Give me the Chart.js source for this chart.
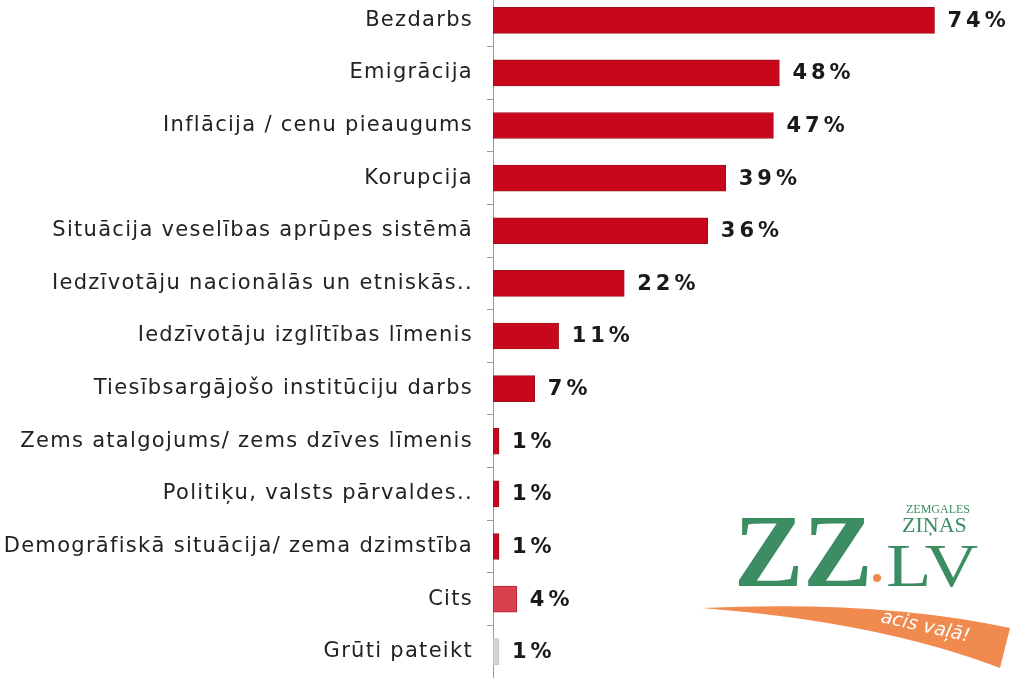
<!DOCTYPE html>
<html>
<head>
<meta charset="utf-8">
<script src="https://cdn.jsdelivr.net/npm/chart.js@4.4.1/dist/chart.umd.min.js"></script>
<style>
	html, body { margin: 0; padding: 0; background: #fff; overflow: hidden; }
	#wrap { position: absolute; left: 0; top: -6px; width: 1024px; height: 684px; }
</style>
</head>
<body>
<div id="wrap"><canvas id="problemsChart"></canvas></div>
<script>
// survey answers, share of respondents (%)
var categories = [
	'Bezdarbs',
	'Emigrācija',
	'Inflācija / cenu pieaugums',
	'Korupcija',
	'Situācija veselības aprūpes sistēmā',
	'Iedzīvotāju nacionālās un etniskās..',
	'Iedzīvotāju izglītības līmenis',
	'Tiesībsargājošo institūciju darbs',
	'Zems atalgojums/ zems dzīves līmenis',
	'Politiķu, valsts pārvaldes..',
	'Demogrāfiskā situācija/ zema dzimstība',
	'Cits',
	'Grūti pateikt'
];
var shares = [74, 48, 47, 39, 36, 22, 11, 7, 1, 1, 1, 4, 1];
var valueLabels = ['74%', '48%', '47%', '39%', '36%', '22%', '11%', '7%', '1%', '1%', '1%', '4%', '1%'];

var fillColors = [];
var edgeColors = [];
for (var i = 0; i < categories.length; i++) {
	if (categories[i] == 'Cits') {
		fillColors.push('#d9414f');
		edgeColors.push('#b3222f');
	} else if (categories[i] == 'Grūti pateikt') {
		fillColors.push('#d4d4d4');
		edgeColors.push('#c4c4c4');
	} else {
		fillColors.push('#c8071c');
		edgeColors.push('#9e1018');
	}
}

// the source image is a bit stretched sideways, so widen the axis text
var spacingPlugin = {
	id: 'labelSpacing',
	beforeDraw: function(chart) {
		chart.ctx.letterSpacing = '1.3px';
	}
};

// percentage text next to each bar
var valueLabelPlugin = {
	id: 'valueLabels',
	afterDatasetsDraw: function(chart) {
		var ctx = chart.ctx;
		var meta = chart.getDatasetMeta(0);
		ctx.save();
		ctx.fillStyle = '#1a1a1a';
		ctx.font = 'bold 21px "DejaVu Sans"';
		ctx.textBaseline = 'middle';
		ctx.textAlign = 'left';
		ctx.letterSpacing = '4px';
		meta.data.forEach(function(bar, i) {
			ctx.fillText(valueLabels[i], bar.x + 13, bar.y + 1);
		});
		ctx.restore();
	}
};

// ZZ.LV watermark in the lower right corner
var logoPlugin = {
	id: 'zzLogo',
	afterDraw: function(chart) {
		var ctx = chart.ctx;
		ctx.save();
		ctx.letterSpacing = '0px';
		// orange swoosh
		ctx.fillStyle = '#f08a4e';
		ctx.beginPath();
		ctx.moveTo(702, 614);
		ctx.quadraticCurveTo(880, 606, 1010, 634);
		ctx.lineTo(1000, 674);
		ctx.quadraticCurveTo(880, 628, 702, 614);
		ctx.closePath();
		ctx.fill();
		ctx.fillStyle = '#ffffff';
		ctx.font = 'italic 19px "DejaVu Sans"';
		ctx.translate(880, 628);
		ctx.rotate(0.22);
		ctx.fillText('acis vaļā!', 0, 0);
		ctx.restore();

		ctx.save();
		ctx.letterSpacing = '0px';
		ctx.fillStyle = '#3d8d63';
		ctx.textBaseline = 'alphabetic';
		ctx.font = 'bold 104px "Liberation Serif"';
		ctx.fillText('ZZ', 734, 592);
		ctx.font = '12px "Liberation Serif"';
		ctx.fillText('ZEMGALES', 906, 519);
		ctx.font = '22px "Liberation Serif"';
		ctx.fillText('ZIŅAS', 902, 538);
		ctx.save();
		ctx.translate(886, 592);
		ctx.scale(1.2, 1);
		ctx.font = '62px "Liberation Serif"';
		ctx.fillText('LV', 0, 0);
		ctx.restore();
		ctx.fillStyle = '#f08a4e';
		ctx.beginPath();
		ctx.arc(877, 584, 4, 0, Math.PI * 2);
		ctx.fill();
		ctx.restore();
	}
};

var ctx = document.getElementById('problemsChart');
new Chart(ctx, {
	type: 'bar',
	data: {
		labels: categories,
		datasets: [{
			data: shares,
			backgroundColor: fillColors,
			borderColor: edgeColors,
			borderWidth: 1,
			borderSkipped: false,
			barThickness: 26
		}]
	},
	plugins: [spacingPlugin, valueLabelPlugin, logoPlugin],
	options: {
		indexAxis: 'y',
		responsive: true,
		maintainAspectRatio: false,
		animation: false,
		layout: { padding: 0 },
		plugins: {
			legend: { display: false },
			tooltip: { enabled: false }
		},
		scales: {
			x: {
				display: false,
				min: 0,
				max: 89
			},
			y: {
				afterFit: function(scale) {
					scale.width = 493;
					scale.paddingTop = 0;
					scale.paddingBottom = 0;
				},
				border: {
					display: true,
					color: '#9a9a9a',
					width: 1
				},
				grid: {
					offset: true,
					drawOnChartArea: false,
					tickLength: 6,
					color: '#9a9a9a'
				},
				ticks: {
					color: '#222222',
					padding: 14,
					font: { family: 'DejaVu Sans', size: 21 }
				}
			}
		}
	}
});
</script>
</body>
</html>
